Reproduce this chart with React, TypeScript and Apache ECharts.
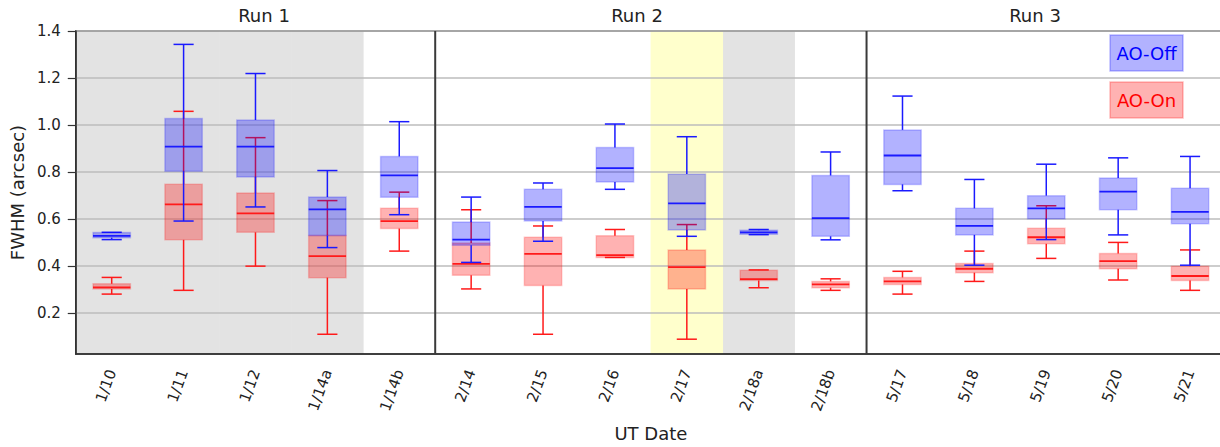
import { useEffect, useRef } from 'react';
import * as echarts from 'echarts';

const categories = ['1/10', '1/11', '1/12', '1/14a', '1/14b', '2/14', '2/15', '2/16', '2/17', '2/18a', '2/18b', '5/17', '5/18', '5/19', '5/20', '5/21'];

// [min, Q1, median, Q3, max]
const aoOff = [
  [0.512, 0.52, 0.528, 0.542, 0.543],
  [0.591, 0.803, 0.908, 1.027, 1.343],
  [0.651, 0.779, 0.908, 1.021, 1.219],
  [0.478, 0.529, 0.641, 0.693, 0.806],
  [0.618, 0.692, 0.785, 0.866, 1.014],
  [0.415, 0.488, 0.512, 0.587, 0.693],
  [0.505, 0.591, 0.651, 0.726, 0.753],
  [0.726, 0.757, 0.816, 0.904, 1.004],
  [0.526, 0.553, 0.666, 0.791, 0.95],
  [0.533, 0.535, 0.543, 0.552, 0.555],
  [0.511, 0.526, 0.603, 0.785, 0.885],
  [0.72, 0.747, 0.87, 0.979, 1.123],
  [0.403, 0.532, 0.57, 0.645, 0.768],
  [0.512, 0.601, 0.645, 0.699, 0.833],
  [0.532, 0.639, 0.716, 0.774, 0.86],
  [0.403, 0.58, 0.63, 0.731, 0.866],
];

const aoOn = [
  [0.28, 0.302, 0.309, 0.324, 0.351],
  [0.296, 0.511, 0.662, 0.748, 1.058],
  [0.399, 0.543, 0.624, 0.71, 0.946],
  [0.109, 0.35, 0.442, 0.529, 0.678],
  [0.463, 0.559, 0.591, 0.645, 0.714],
  [0.302, 0.36, 0.409, 0.498, 0.639],
  [0.109, 0.317, 0.451, 0.522, 0.57],
  [0.436, 0.436, 0.446, 0.528, 0.555],
  [0.088, 0.302, 0.395, 0.468, 0.576],
  [0.307, 0.338, 0.344, 0.382, 0.383],
  [0.296, 0.307, 0.321, 0.334, 0.345],
  [0.28, 0.321, 0.334, 0.351, 0.377],
  [0.334, 0.371, 0.388, 0.41, 0.463],
  [0.432, 0.494, 0.522, 0.56, 0.656],
  [0.34, 0.388, 0.42, 0.453, 0.5],
  [0.296, 0.338, 0.357, 0.399, 0.468],
];

const grayDates = ['1/10', '1/11', '1/12', '1/14a', '2/18a'];
const yellowDates = ['2/17'];
const runStarts = ['2/14', '5/17'];
const runTitles = ['Run 1', 'Run 2', 'Run 3'];
const legendLabels = ['AO-Off', 'AO-On'];
const yTicks = [0.2, 0.4, 0.6, 0.8, 1.0, 1.2, 1.4];

const FONT = 'DejaVu Sans';

export default function App() {
  const ref = useRef<HTMLDivElement>(null);

  useEffect(() => {
    const chart = echarts.init(ref.current as HTMLDivElement, null, { renderer: 'svg' });
    const idx = (d: string) => categories.indexOf(d);

    const boxRender = (fill: string, edge: string, line: string) => (params: any, api: any) => {
      const i = api.value(0);
      const pMin = api.coord([i, api.value(1)]);
      const yQ1 = api.coord([i, api.value(2)])[1];
      const yMed = api.coord([i, api.value(3)])[1];
      const yQ3 = api.coord([i, api.value(4)])[1];
      const yMax = api.coord([i, api.value(5)])[1];
      const cx = pMin[0];
      const yMin = pMin[1];
      const band = api.size([1, 0])[0];
      const bw = band * 0.52;
      const cw = band * 0.28;
      const ls = { stroke: line, lineWidth: 1.5 };
      return {
        type: 'group',
        children: [
          { type: 'line', shape: { x1: cx, y1: yQ1, x2: cx, y2: yMin }, style: ls },
          { type: 'line', shape: { x1: cx, y1: yQ3, x2: cx, y2: yMax }, style: ls },
          { type: 'line', shape: { x1: cx - cw / 2, y1: yMin, x2: cx + cw / 2, y2: yMin }, style: ls },
          { type: 'line', shape: { x1: cx - cw / 2, y1: yMax, x2: cx + cw / 2, y2: yMax }, style: ls },
          {
            type: 'rect',
            shape: { x: cx - bw / 2, y: yQ3, width: bw, height: Math.max(yQ1 - yQ3, 1) },
            style: { fill, stroke: edge, lineWidth: 1.5 },
          },
          { type: 'line', shape: { x1: cx - bw / 2, y1: yMed, x2: cx + bw / 2, y2: yMed }, style: { stroke: line, lineWidth: 1.8 } },
        ],
      };
    };

    const shadeRender = (color: string) => (params: any, api: any) => {
      const i = api.value(0);
      const cx = api.coord([i, 1])[0];
      const band = api.size([1, 0])[0];
      const cs = params.coordSys;
      return {
        type: 'rect',
        shape: { x: cx - band / 2 - 0.3, y: cs.y, width: band + 0.6, height: cs.height },
        style: { fill: color },
      };
    };

    const sepRender = (params: any, api: any) => {
      const i = api.value(0);
      const cx = api.coord([i, 1])[0];
      const band = api.size([1, 0])[0];
      const cs = params.coordSys;
      const x = cx - band / 2;
      return {
        type: 'line',
        shape: { x1: x, y1: cs.y, x2: x, y2: cs.y + cs.height },
        style: { stroke: '#3a3a3a', lineWidth: 2 },
      };
    };

    const titleX = [264, 637, 1035];
    const legendColors = [
      { fill: 'rgba(0,0,255,0.3)', stroke: 'rgba(0,0,255,0.25)', text: '#0000ff' },
      { fill: 'rgba(255,0,0,0.3)', stroke: 'rgba(255,0,0,0.25)', text: '#ff0000' },
    ];

    chart.setOption({
      animation: false,
      grid: {
        left: 75,
        top: 31,
        width: 1151,
        bottom: 92,
        show: true,
        borderColor: '#333',
        borderWidth: 1.5,
        backgroundColor: 'transparent',
      },
      xAxis: {
        type: 'category',
        data: categories,
        boundaryGap: true,
        axisLine: { lineStyle: { color: '#333', width: 1.5 } },
        axisTick: { alignWithLabel: true, length: 8, lineStyle: { color: '#333', width: 1.2 } },
        axisLabel: {
          rotate: 70,
          fontSize: 15,
          fontFamily: FONT,
          color: '#222',
          margin: 16,
          padding: [14, 0, 0, 0],
        },
        splitLine: { show: false },
        name: 'UT Date',
        nameLocation: 'middle',
        nameGap: 70,
        nameTextStyle: { fontSize: 18, fontFamily: FONT, color: '#222' },
      },
      yAxis: {
        type: 'value',
        min: 0.025,
        max: 1.4,
        axisLine: { show: true, lineStyle: { color: '#333', width: 1.5 } },
        axisTick: { show: true, length: 8, lineStyle: { color: '#333', width: 1.2 }, customValues: yTicks },
        axisLabel: {
          fontSize: 15,
          fontFamily: FONT,
          color: '#222',
          margin: 15,
          customValues: yTicks,
          formatter: (v: number) => v.toFixed(1),
        },
        splitLine: { show: true, lineStyle: { color: '#bdbdbd', width: 1.5 } },
        name: 'FWHM (arcsec)',
        nameLocation: 'middle',
        nameGap: 40,
        nameTextStyle: { fontSize: 18, fontFamily: FONT, color: '#222' },
      },
      series: [
        {
          type: 'custom',
          z: -1,
          renderItem: shadeRender('#e3e3e3'),
          encode: { x: 0, y: 1 },
          data: grayDates.map((d) => [idx(d), 1]),
          silent: true,
        },
        {
          type: 'custom',
          z: -1,
          renderItem: shadeRender('#ffffcc'),
          encode: { x: 0, y: 1 },
          data: yellowDates.map((d) => [idx(d), 1]),
          silent: true,
        },
        {
          type: 'custom',
          name: 'AO-On',
          z: 2,
          renderItem: boxRender('rgba(255,0,0,0.3)', 'rgba(255,0,0,0.2)', '#ff1a1a'),
          encode: { x: 0, y: [1, 2, 3, 4, 5] },
          data: aoOn.map((v, i) => [i, ...v]),
        },
        {
          type: 'custom',
          name: 'AO-Off',
          z: 3,
          renderItem: boxRender('rgba(0,0,255,0.3)', 'rgba(0,0,255,0.2)', '#1a1aff'),
          encode: { x: 0, y: [1, 2, 3, 4, 5] },
          data: aoOff.map((v, i) => [i, ...v]),
        },
        {
          type: 'custom',
          z: 4,
          renderItem: sepRender,
          encode: { x: 0, y: 1 },
          data: runStarts.map((d) => [idx(d), 1]),
          silent: true,
        },
      ],
      graphic: [
        ...runTitles.map((t, k) => ({
          type: 'text',
          x: titleX[k],
          y: 15,
          style: {
            text: t,
            fontSize: 18,
            fontFamily: FONT,
            fill: '#222',
            textAlign: 'center',
            textVerticalAlign: 'middle',
          },
        })),
        ...legendLabels.map((t, k) => ({
          type: 'group',
          x: 1110,
          y: 35 + k * 47,
          children: [
            {
              type: 'rect',
              shape: { x: 0, y: 0, width: 73, height: 36 },
              style: { fill: legendColors[k].fill, stroke: legendColors[k].stroke, lineWidth: 1.5 },
            },
            {
              type: 'text',
              x: 36.5,
              y: 18,
              style: {
                text: t,
                fontSize: 18,
                fontFamily: FONT,
                fill: legendColors[k].text,
                textAlign: 'center',
                textVerticalAlign: 'middle',
              },
            },
          ],
        })),
      ],
    });

    return () => chart.dispose();
  }, []);

  return (
    <div style={{ position: 'absolute', left: 0, top: 0, width: 1220, height: 447, overflow: 'hidden' }}>
      <div ref={ref} style={{ width: 1240, height: 447 }} />
    </div>
  );
}
